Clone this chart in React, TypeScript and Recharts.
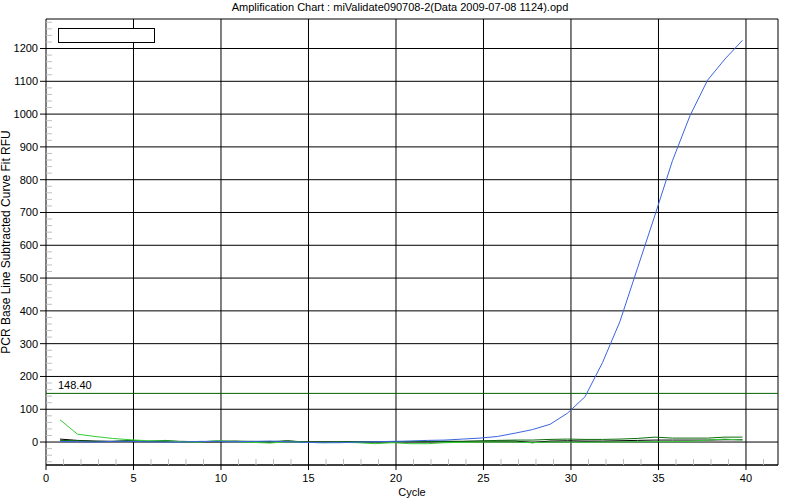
import { LineChart, Line, XAxis, YAxis, CartesianGrid, ReferenceLine, Legend } from "recharts";

const FONT = "'Liberation Sans', Arial, sans-serif";

const TITLE = "Amplification Chart : miValidate090708-2(Data 2009-07-08 1124).opd";

// cycle positions of the plotted points
const cycles = [
    0.8, 1.8, 2.8, 3.8, 4.8, 5.8, 6.8, 7.8, 8.8, 9.8,
    10.8, 11.8, 12.8, 13.8, 14.8, 15.8, 16.8, 17.8, 18.8, 19.8,
    20.8, 21.8, 22.8, 23.8, 24.8, 25.8, 26.8, 27.8, 28.8, 29.8,
    30.8, 31.8, 32.8, 33.8, 34.8, 35.8, 36.8, 37.8, 38.8, 39.8,
];

// RFU per well
const blueRfu = [
    2, 1, 0, 2, 2, 1, 0, 0, 2, 2,
    1, 2, 3, 1, -1, -2, -2, 0, 1, 2,
    3, 5, 6, 9, 12, 17, 27, 38, 54, 88,
    138, 242, 368, 530, 692, 858, 995, 1103, 1168, 1225,
];
const limeRfu = [
    68, 24, 17, 11, 7, 4, 3, 1, 0, 4,
    1, -1, -3, 1, -1, -2, -1, -2, -5, -2,
    -5, -5, -2, -1, 0, 0, 0, -2, 0, 0,
    -1, 0, 0, 1, 1, 1, 2, 6, 9, 6,
];
const greenRfu = [
    5, 4, 2, 2, 5, 2, 5, 1, 1, 3,
    3, 2, 1, 4, 0, 0, 0, 1, 1, 1,
    2, 2, 2, 2, 3, 5, 6, 6, 8, 9,
    8, 8, 9, 11, 15, 12, 12, 12, 15, 15,
];
const blackRfu = [
    9, 5, 3, 2, 3, 2, 2, 2, 1, 1,
    2, 1, 0, 3, 0, 0, 0, 0, 1, 1,
    1, 1, 2, 2, 3, 3, 3, -2, 3, 4,
    3, 3, 4, 5, 6, 6, 6, 6, 7, 7,
];

const THRESHOLD = 148.4;

const xTicks = [0, 5, 10, 15, 20, 25, 30, 35, 40];
const gridXTicks = [5, 10, 15, 20, 25, 30, 35, 40];
const yTicks = [0, 100, 200, 300, 400, 500, 600, 700, 800, 900, 1000, 1100, 1200];
const xMinorTicks = Array.from({ length: 41 }, (_, i) => i + 1).filter((c) => c % 5 !== 0);
const yMinorTicks = Array.from({ length: 68 }, (_, i) => -60 + i * 20).filter((v) => v % 100 !== 0);

const X_DOMAIN = [0, 41.83];
const Y_DOMAIN = [-70, 1290];

const data = cycles.map((cycle, i) => ({
    cycle,
    blue: blueRfu[i],
    lime: limeRfu[i],
    green: greenRfu[i],
    black: blackRfu[i],
}));

const tickStyle = { fontSize: 11, fill: "#000", fontFamily: FONT };
const noLabel = () => <g />;

export default function App() {
    return (
        <div style={{ position: "absolute", left: 0, top: 0, width: 800, height: 500, background: "#fff" }}>
            <div
                style={{
                    position: "absolute",
                    top: 0,
                    left: 0,
                    width: 800,
                    textAlign: "center",
                    fontFamily: FONT,
                    fontSize: 11,
                    lineHeight: "14px",
                }}
            >
                {TITLE}
            </div>
            <LineChart
                width={800}
                height={500}
                data={data}
                margin={{ top: 19, right: 22, bottom: 5, left: 8 }}
                style={{ fontFamily: FONT }}
            >
                <CartesianGrid stroke="#000" xAxisId="top" />
                <XAxis
                    xAxisId="top"
                    orientation="top"
                    type="number"
                    dataKey="cycle"
                    domain={X_DOMAIN}
                    ticks={gridXTicks}
                    interval={0}
                    allowDataOverflow
                    height={0}
                    tick={noLabel}
                    tickLine={false}
                    axisLine={{ stroke: "#000" }}
                />
                <XAxis
                    type="number"
                    dataKey="cycle"
                    domain={X_DOMAIN}
                    ticks={xTicks}
                    interval={0}
                    allowDataOverflow
                    height={30}
                    tick={tickStyle}
                    tickSize={5}
                    tickMargin={4}
                    tickLine={{ stroke: "#000" }}
                    axisLine={{ stroke: "#000" }}
                    label={{ value: "Cycle", position: "insideBottom", offset: -1, style: tickStyle }}
                />
                <XAxis
                    xAxisId="minor"
                    type="number"
                    dataKey="cycle"
                    domain={X_DOMAIN}
                    ticks={xMinorTicks}
                    interval={0}
                    allowDataOverflow
                    mirror
                    height={10}
                    tick={noLabel}
                    tickSize={6}
                    tickLine={{ stroke: "#c0c0c0" }}
                    axisLine={false}
                />
                <YAxis
                    type="number"
                    domain={Y_DOMAIN}
                    ticks={yTicks}
                    interval={0}
                    allowDataOverflow
                    width={38}
                    tick={tickStyle}
                    tickSize={6}
                    tickMargin={2}
                    tickLine={{ stroke: "#000" }}
                    axisLine={false}
                    label={{
                        value: "PCR Base Line Subtracted Curve Fit RFU",
                        angle: -90,
                        position: "insideLeft",
                        offset: -2,
                        style: { ...tickStyle, fontSize: 12, textAnchor: "middle" },
                    }}
                />
                <YAxis
                    yAxisId="minor"
                    type="number"
                    domain={Y_DOMAIN}
                    ticks={yMinorTicks}
                    interval={0}
                    allowDataOverflow
                    mirror
                    width={10}
                    tick={noLabel}
                    tickSize={6}
                    tickLine={{ stroke: "#c0c0c0" }}
                    axisLine={false}
                />
                <YAxis
                    yAxisId="right"
                    orientation="right"
                    type="number"
                    domain={Y_DOMAIN}
                    allowDataOverflow
                    width={0}
                    tick={false}
                    tickLine={false}
                    axisLine={{ stroke: "#000" }}
                />
                <Legend
                    layout="horizontal"
                    verticalAlign="middle"
                    align="center"
                    wrapperStyle={{ left: 58, top: 28, width: "auto", height: "auto" }}
                    content={() => (
                        <div style={{ width: 95, height: 13, border: "1px solid #000", background: "#fff" }} />
                    )}
                />
                <ReferenceLine
                    y={THRESHOLD}
                    stroke="#006400"
                    label={(props: any) => (
                        <text
                            x={props.viewBox.x + 12}
                            y={props.viewBox.y - 4}
                            fontSize={11}
                            fontFamily={FONT}
                            fill="#000"
                        >
                            {THRESHOLD.toFixed(2)}
                        </text>
                    )}
                />
                <Line dataKey="black" stroke="#000" strokeWidth={1} dot={false} isAnimationActive={false} />
                <Line dataKey="green" stroke="#0b6b0b" strokeWidth={1} dot={false} isAnimationActive={false} />
                <Line dataKey="lime" stroke="#33cc33" strokeWidth={1} dot={false} isAnimationActive={false} />
                <Line dataKey="blue" stroke="#3c64e0" strokeWidth={1} dot={false} isAnimationActive={false} />
            </LineChart>
        </div>
    );
}
